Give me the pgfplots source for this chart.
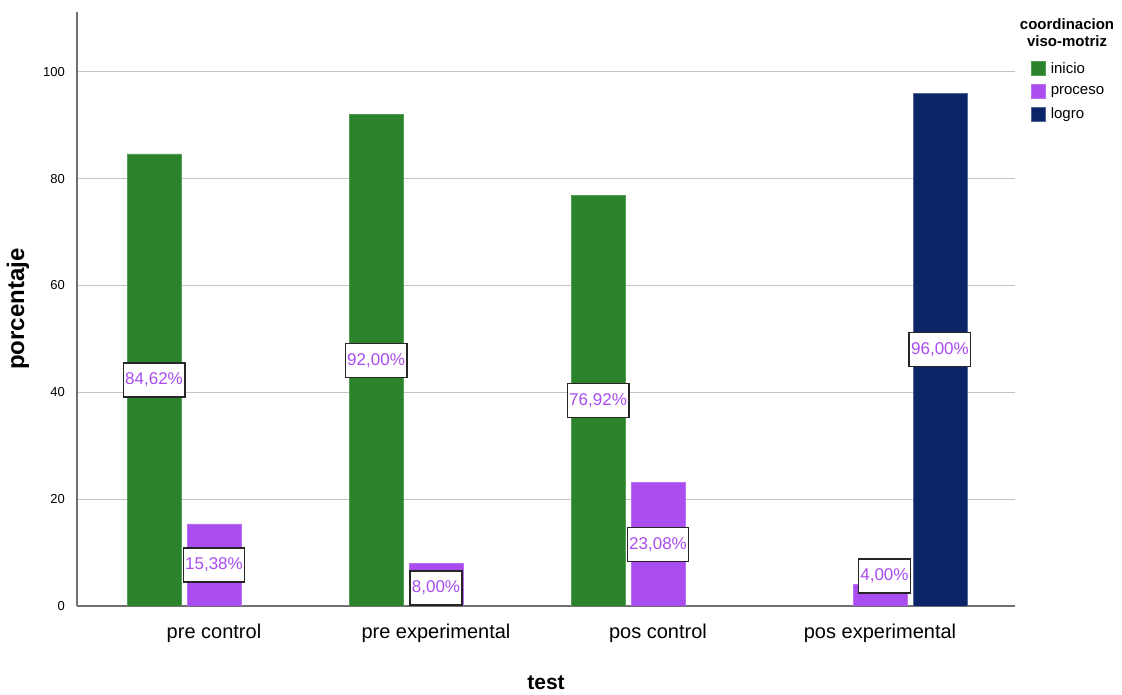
\documentclass[border=0pt]{standalone}
\usepackage{pgfplots}
\pgfplotsset{compat=1.18}
\usepackage{fontspec}
\setmainfont{Liberation Sans}
\definecolor{cinicio}{HTML}{2B842B}
\definecolor{cproceso}{HTML}{A94CF0}
\definecolor{clogro}{HTML}{0B2568}
\definecolor{gridc}{HTML}{C4C4C4}
\definecolor{axc}{HTML}{707070}
\begin{document}
\begin{tikzpicture}
\path (0,0) rectangle (1122pt,695pt);
\begin{axis}[
  at={(77pt,89pt)}, anchor=south west,
  scale only axis, width=938pt, height=594pt,
  xmin=-0.617, xmax=3.608, ymin=0, ymax=111.2,
  axis x line*=bottom, axis y line*=left,
  x axis line style={-}, y axis line style={-},
  axis line style={axc, line width=1.3pt},
  xtick={0,1,2,3},
  xticklabels={pre control, pre experimental, pos control, pos experimental},
  ytick={0,20,40,60,80,100},
  major tick length=0pt,
  ymajorgrids, grid style={gridc, line width=1.3pt},
  /pgf/number format/assume math mode=true,
  yticklabel style={font=\fontsize{13}{15}\selectfont, anchor=east, inner sep=0pt, xshift=-12pt},
  xticklabel style={font=\fontsize{20}{22}\selectfont, anchor=north, inner sep=0pt, yshift=-18pt},
  xlabel={test}, ylabel={porcentaje},
  every axis x label/.style={at={(rel axis cs:0.5,0)}, anchor=center, yshift=-77pt, font=\bfseries\fontsize{21}{23}\selectfont},
  every axis y label/.style={at={(rel axis cs:0,0.5)}, anchor=center, rotate=90, yshift=59pt, font=\bfseries\fontsize{24}{26}\selectfont},
  legend image code/.code={\fill[#1] (0pt,-7pt) rectangle (14pt,7pt);},
  legend style={at={(1.017,0.917)}, anchor=north west, draw=none, fill=none, inner sep=0pt,
    font=\fontsize{15}{17}\selectfont, row sep=8pt, column sep=4pt, nodes={inner sep=1pt}},
  legend cell align=left,
]
\addplot[ybar, bar width=0.243, bar shift=0pt, fill=cinicio, draw=cinicio!80!white, line width=0.6pt]
  coordinates {(-0.27,84.62) (0.73,92.00) (1.73,76.92)};
\addlegendentry{inicio}
\addplot[ybar, bar width=0.243, bar shift=0pt, fill=cproceso, draw=cproceso!80!white, line width=0.6pt]
  coordinates {(0,15.38) (1,8.00) (2,23.08) (3,4.00)};
\addlegendentry{proceso}
\addplot[ybar, bar width=0.243, bar shift=0pt, fill=clogro, draw=clogro!70!white, line width=0.6pt]
  coordinates {(3.27,96.00)};
\addlegendentry{logro}
\addplot[forget plot, draw=none, mark=none, nodes near coords, point meta=explicit symbolic,
  nodes near coords align=center,
  every node near coord/.append style={anchor=center, draw=black!85, fill=white, line width=1.3pt,
    text=cproceso, font=\fontsize{17}{17}\selectfont, inner xsep=2pt, inner ysep=0pt,
    minimum height=34pt}]
  coordinates {
    (-0.27,42.31) [84,62\%]
    (0.73,46.00) [92,00\%]
    (1.73,38.46) [76,92\%]
    (3.27,48.00) [96,00\%]
    (0,7.69) [15,38\%]
    (1,3.37) [8,00\%]
    (2,11.54) [23,08\%]
    (3.02,5.6) [4,00\%]
  };
\end{axis}
\node[align=center, font=\bfseries\fontsize{15}{17}\selectfont, inner sep=0pt] at (1067pt,662pt) {coordinacion\\viso-motriz};
\end{tikzpicture}
\end{document}
